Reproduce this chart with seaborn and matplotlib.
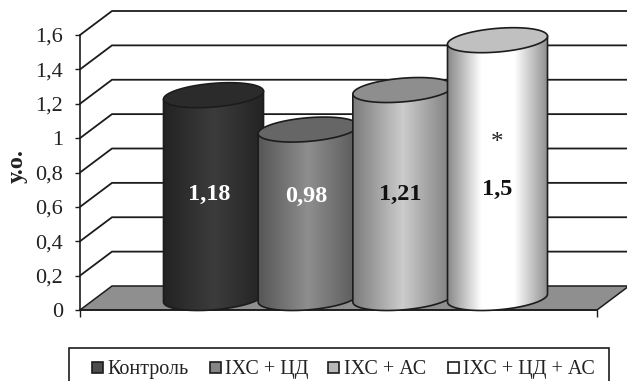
import numpy as np
import matplotlib
matplotlib.use("Agg")
import matplotlib.pyplot as plt
from matplotlib.patches import Polygon, PathPatch, Rectangle
from matplotlib.path import Path
from matplotlib.colors import LinearSegmentedColormap
import seaborn as sns

groups = ["Контроль", "ІХС + ЦД", "ІХС + АС", "ІХС + ЦД + АС"]
values = [1.18, 0.98, 1.21, 1.5]
value_labels = ["1,18", "0,98", "1,21", "1,5"]
tick_values = [0, 0.2, 0.4, 0.6, 0.8, 1.0, 1.2, 1.4, 1.6]
tick_labels = ["0", "0,2", "0,4", "0,6", "0,8", "1", "1,2", "1,4", "1,6"]

swatches = ["#4d4d4d", "#858585", "#b8b8b8", "#ffffff"]
cap_colors = ["#2b2b2b", "#666666", "#8e8e8e", "#c0c0c0"]
label_colors = ["white", "white", "#111111", "#111111"]
shades = [
    ["#232323", "#3c3c3c", "#232323"],
    ["#565656", "#8e8e8e", "#5a5a5a"],
    ["#7c7c7c", "#cccccc", "#7c7c7c"],
    ["#8a8a8a", "#ffffff", "#ffffff", "#8e8e8e"],
]

W, H = 627, 381
sns.set_theme(style="white")
plt.rcParams["font.family"] = ["Liberation Serif", "DejaVu Serif"]
INK = "#1c1c1c"

fig = plt.figure(figsize=(W / 100, H / 100), dpi=100)


def frame(left, right, top, bottom):
    return [left / W, 1 - bottom / H, (right - left) / W, (bottom - top) / H]


# Front plane carries the value axis; the cylinders stand half a depth behind it.
ax = fig.add_axes(frame(80, 597, 35, 310))
bar_ax = fig.add_axes(frame(96, 613, 23, 298))
bar_ax.patch.set_alpha(0)

step_px = 94.67
px_y = 275 / 1.6
x0, x1 = (80 - 197.5) / step_px, (597 - 197.5) / step_px
bar_xlim = ((96 - 213.5) / step_px, (613 - 213.5) / step_px)
ax.set_xlim(x0, x1)
ax.set_ylim(0, 1.6)

# Wall grid and floor, offset in pixels from the front plane.
depth_x, depth_y = 32 / step_px, 24 / px_y
x_edge = x0 + (W - 80) / step_px
floor = Polygon(
    [(x0, 0), (x1, 0), (x_edge, (W - 597) * 24 / 32 / px_y),
     (x_edge, depth_y), (x0 + depth_x, depth_y)],
    closed=True, facecolor="#8f8f8f", edgecolor=INK, lw=1.1, clip_on=False, zorder=1,
)
ax.add_patch(floor)
for v in tick_values[1:]:
    ax.plot([x0, x0 + depth_x, x_edge], [v, v + depth_y, v + depth_y],
            color=INK, lw=1.3, clip_on=False, zorder=1, solid_joinstyle="miter")

ax.set_xlim(x0, x1)
ax.set_xticks([x0, x1], ["", ""])
ax.set_yticks(tick_values, tick_labels)
ax.tick_params(axis="y", length=3.6, width=1, color=INK, pad=8.5, labelsize=16, labelcolor="#222222", left=True)
ax.tick_params(axis="x", length=5, width=1, color=INK, bottom=True)
sns.despine(ax=ax, top=True, right=True)
for side in ("left", "bottom"):
    ax.spines[side].set_color(INK)
    ax.spines[side].set_linewidth(1.2)
ax.set_ylabel("у.о.", fontsize=17.5, fontweight="bold", color="#222222", va="center")
ax.yaxis.set_label_coords((17 - 80) / 517, (310 - 166) / 275)

# Cylinder bodies start as seaborn bars, then get a curved outline and shading.
sns.barplot(x=groups, y=values, hue=groups, palette=swatches, order=groups,
            width=100 / step_px, dodge=False, legend=False, ax=bar_ax)
bar_ax.set_axis_off()

a_px, b_px, tilt = 50.17, 11.8, np.radians(4.84)


def ellipse(cx, cy, t):
    dx = a_px * np.cos(t) * np.cos(tilt) - b_px * np.sin(t) * np.sin(tilt)
    dy = a_px * np.cos(t) * np.sin(tilt) + b_px * np.sin(t) * np.cos(tilt)
    return cx + dx / step_px, cy + dy / px_y


t_right = np.arctan2(-b_px * np.sin(tilt), a_px * np.cos(tilt))
t_left = t_right + np.pi
for i, bar in enumerate(bar_ax.patches):
    cx = bar.get_x() + bar.get_width() / 2
    v = bar.get_height()
    z = 3 + 3 * i
    lower = np.linspace(t_right, t_right - np.pi, 60)
    bx, by = ellipse(cx, 0, lower)
    lx, ly = ellipse(cx, v, np.array([t_left]))
    rx, ry = ellipse(cx, v, np.array([t_right]))
    px = np.r_[lx, rx, bx, lx]
    py = np.r_[ly, ry, by, ly]
    body = PathPatch(Path(np.c_[px, py]), facecolor="none", edgecolor=INK, lw=1.2,
                     zorder=z + 1, clip_on=False)
    bar_ax.add_patch(body)
    bar.set_zorder(z)
    bar.set_visible(False)

    cmap = LinearSegmentedColormap.from_list(f"shade{i}", shades[i])
    grad = np.linspace(0, 1, 256).reshape(1, -1)
    img = bar_ax.imshow(grad, cmap=cmap, aspect="auto", zorder=z,
                        extent=[bar.get_x(), bar.get_x() + bar.get_width(),
                                -14 / px_y, v + 14 / px_y])
    img.set_clip_path(body)
    # The rounded base hangs below the zero line of this axes.
    img.set_clip_box(fig.bbox)

    ring = np.linspace(0, 2 * np.pi, 120)
    ex, ey = ellipse(cx, v, ring)
    bar_ax.add_patch(Polygon(np.c_[ex, ey], closed=True, facecolor=cap_colors[i],
                             edgecolor=INK, lw=1.2, zorder=z + 1, clip_on=False))

bar_ax.set_xlim(bar_xlim)
bar_ax.set_ylim(0, 1.6)

# Value captions sit at a common mid-height, not at the bar ends.
label_heights = [0.60, 0.588, 0.605, 0.633]
label_shift = [-0.05, -0.02, -0.03, 0.0]
for i, (txt, y) in enumerate(zip(value_labels, label_heights)):
    bar_ax.text(i + label_shift[i], y, txt, ha="center", va="center", fontsize=17.5,
                fontweight="bold", color=label_colors[i], zorder=30)
bar_ax.text(3, 0.90, "*", ha="center", va="center", fontsize=18, color="#222222", zorder=30)

# Legend box runs off the bottom edge of the figure; entries share one baseline.
fig.add_artist(Rectangle((69 / W, 1 - 400 / H), 540 / W, 52 / H, transform=fig.transFigure,
                         facecolor="white", edgecolor=INK, lw=1.2))
for name, colour, swatch_x, text_x in zip(groups, swatches, (92, 210, 328, 448), (107, 225, 344, 463)):
    fig.add_artist(Rectangle((swatch_x / W, 1 - 373 / H), 11 / W, 11 / H, transform=fig.transFigure,
                             facecolor=colour, edgecolor=INK, lw=1.2))
    fig.text(text_x / W, 1 - 374 / H, name, fontsize=14.5, color="#222222", ha="left", va="baseline")

fig.savefig("out.png", dpi=100, facecolor="white")
